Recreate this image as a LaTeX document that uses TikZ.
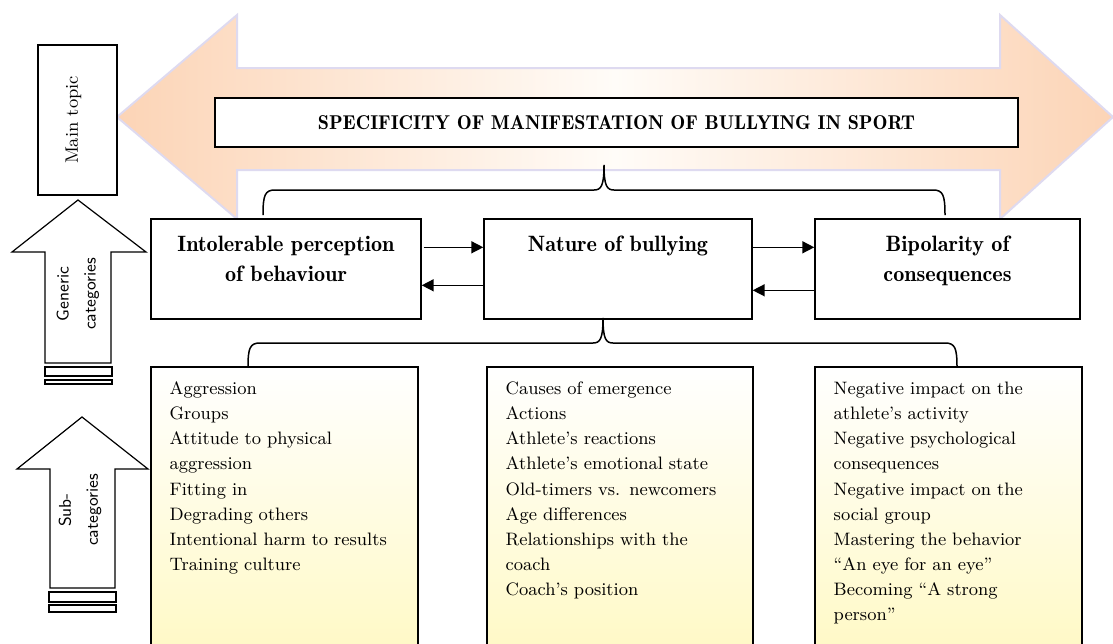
\documentclass[tikz,border=0pt]{standalone}
\usetikzlibrary{arrows.meta}
\definecolor{peach}{RGB}{252,212,182}
\definecolor{palew}{RGB}{255,252,248}
\definecolor{lav}{RGB}{222,218,240}
\definecolor{ylw}{RGB}{255,248,188}
\begin{document}
\begin{tikzpicture}[x=0.5pt,y=-0.5pt,
  box/.style={draw=black, line width=0.7pt, fill=white, inner sep=0pt},
  lbl/.style={inner sep=0pt, align=center, text width=130pt, font=\fontsize{11.1}{14.7}\fontseries{b}\selectfont},
  sublist/.style={inner sep=0pt, align=left, text width=126pt, font=\fontsize{9.0}{12.55}\selectfont},
  subbox/.style={draw=black, line width=0.7pt, top color=white, bottom color=ylw, inner sep=0pt, minimum height=166.5pt},
  arr/.style={-{Triangle[length=6pt,width=6pt]}, line width=0.75pt},
  bracepath/.style={line width=0.75pt},
  blockarrow/.style={draw=black, line width=0.6pt, fill=white},
  sidelbl/.style={rotate=90, align=center, inner sep=0pt}
]
\useasboundingbox (0,0) rectangle (1113,643);
\fill[white] (0,0) rectangle (1113,643);

% big double arrow
\path[draw=lav, line width=1pt, left color=peach, right color=peach, middle color=palew]
 (117,117) -- (237,15) -- (237,68) -- (1000,68) -- (1000,15) -- (1113,117) -- (1000,219) -- (1000,170) -- (237,170) -- (237,219) -- cycle;

% title
\node[box, minimum width=401.5pt, minimum height=24.5pt, font=\fontsize{10}{12}\fontseries{b}\selectfont] (title) at (616.5,122.5) {SPECIFICITY OF MANIFESTATION OF BULLYING IN SPORT};

% main topic
\node[box, minimum width=39.5pt, minimum height=75pt] (main) at (77.5,120) {};
\node[sidelbl, font=\fontsize{9}{11}\selectfont] (maint) at ([xshift=-2pt]main.center) {Main topic};

% generic categories
\node[box, minimum width=135pt, minimum height=50pt] (g1) at (286,269) {};
\node[box, minimum width=134pt, minimum height=50pt] (g2) at (618,269) {};
\node[box, minimum width=132.5pt, minimum height=50pt] (g3) at (947.5,269) {};
\node[lbl, anchor=north] (g1t) at ([yshift=-6.3pt]g1.north) {\strut Intolerable perception\\of behaviour};
\node[lbl, anchor=north] (g2t) at ([yshift=-6.3pt]g2.north) {\strut Nature of bullying};
\node[lbl, anchor=north] (g3t) at ([yshift=-6.3pt]g3.north) {\strut Bipolarity of\\consequences};

\draw[arr, shorten <=1pt] ([yshift=-14.5pt]g1.north east) -- ([yshift=-14.5pt]g2.north west);
\draw[arr] ([yshift=-33.5pt]g2.north west) -- ([yshift=-33.5pt]g1.north east);
\draw[arr] ([yshift=-14.5pt]g2.north east) -- ([yshift=-14.5pt]g3.north west);
\draw[arr] ([yshift=-36pt]g3.north west) -- ([yshift=-36pt]g2.north east);

% braces
\draw[bracepath] (263,215) .. controls (263,195) and (265,190) .. (275,190) -- (594,190)
  .. controls (601,190) and (604,186) .. (604,165)
  .. controls (604,186) and (607,190) .. (614,190) -- (933,190)
  .. controls (943,190) and (945,195) .. (945,215);
\draw[bracepath] (248,367) .. controls (248,348) and (250,343) .. (260,343) -- (593,343)
  .. controls (600,343) and (603,339) .. (603,318)
  .. controls (603,339) and (606,343) .. (613,343) -- (945,343)
  .. controls (955,343) and (957,348) .. (957,367);

% sub-category boxes
\node[subbox, minimum width=133.5pt] (s1) at (284.5,533.5) {};
\node[subbox, minimum width=133pt] (s2) at (620,533.5) {};
\node[subbox, minimum width=133.5pt] (s3) at (948.5,533.5) {};
\node[sublist, anchor=north west] (s1t) at ([xshift=9.5pt,yshift=-5.2pt]s1.north west)
  {\strut Aggression\\Groups\\Attitude to physical\\aggression\\Fitting in\\Degrading others\\Intentional harm to results\\Training culture};
\node[sublist, anchor=north west] (s2t) at ([xshift=9.5pt,yshift=-5.2pt]s2.north west)
  {\strut Causes of emergence\\Actions\\Athlete's reactions\\Athlete's emotional state\\Old-timers vs. newcomers\\Age differences\\Relationships with the\\coach\\Coach's position};
\node[sublist, anchor=north west] (s3t) at ([xshift=9.5pt,yshift=-5.2pt]s3.north west)
  {\strut Negative impact on the\\athlete's activity\\Negative psychological\\consequences\\Negative impact on the\\social group\\Mastering the behavior\\``An eye for an eye''\\Becoming ``A strong\\person''};

% left block arrows
\draw[blockarrow] (78,200) -- (146,252) -- (111,252) -- (111,363) -- (45,363) -- (45,252) -- (12,252) -- cycle;
\draw[blockarrow] (45,367) rectangle (112,376);
\draw[blockarrow] (45,380) rectangle (112,384);
\node[sidelbl, font=\sffamily\fontsize{8.5}{13.5}\selectfont] (gent) at (78,294) {Generic\\categories};

\draw[blockarrow] (82,417) -- (148,469) -- (115,469) -- (115,588) -- (50,588) -- (50,469) -- (17,469) -- cycle;
\draw[blockarrow] (49,592) rectangle (116,602);
\draw[blockarrow] (49,605) rectangle (116,612);
\node[sidelbl, font=\sffamily\fontsize{8.5}{13.5}\selectfont] (subt) at (80,510) {Sub-\\categories};
\end{tikzpicture}
\end{document}
